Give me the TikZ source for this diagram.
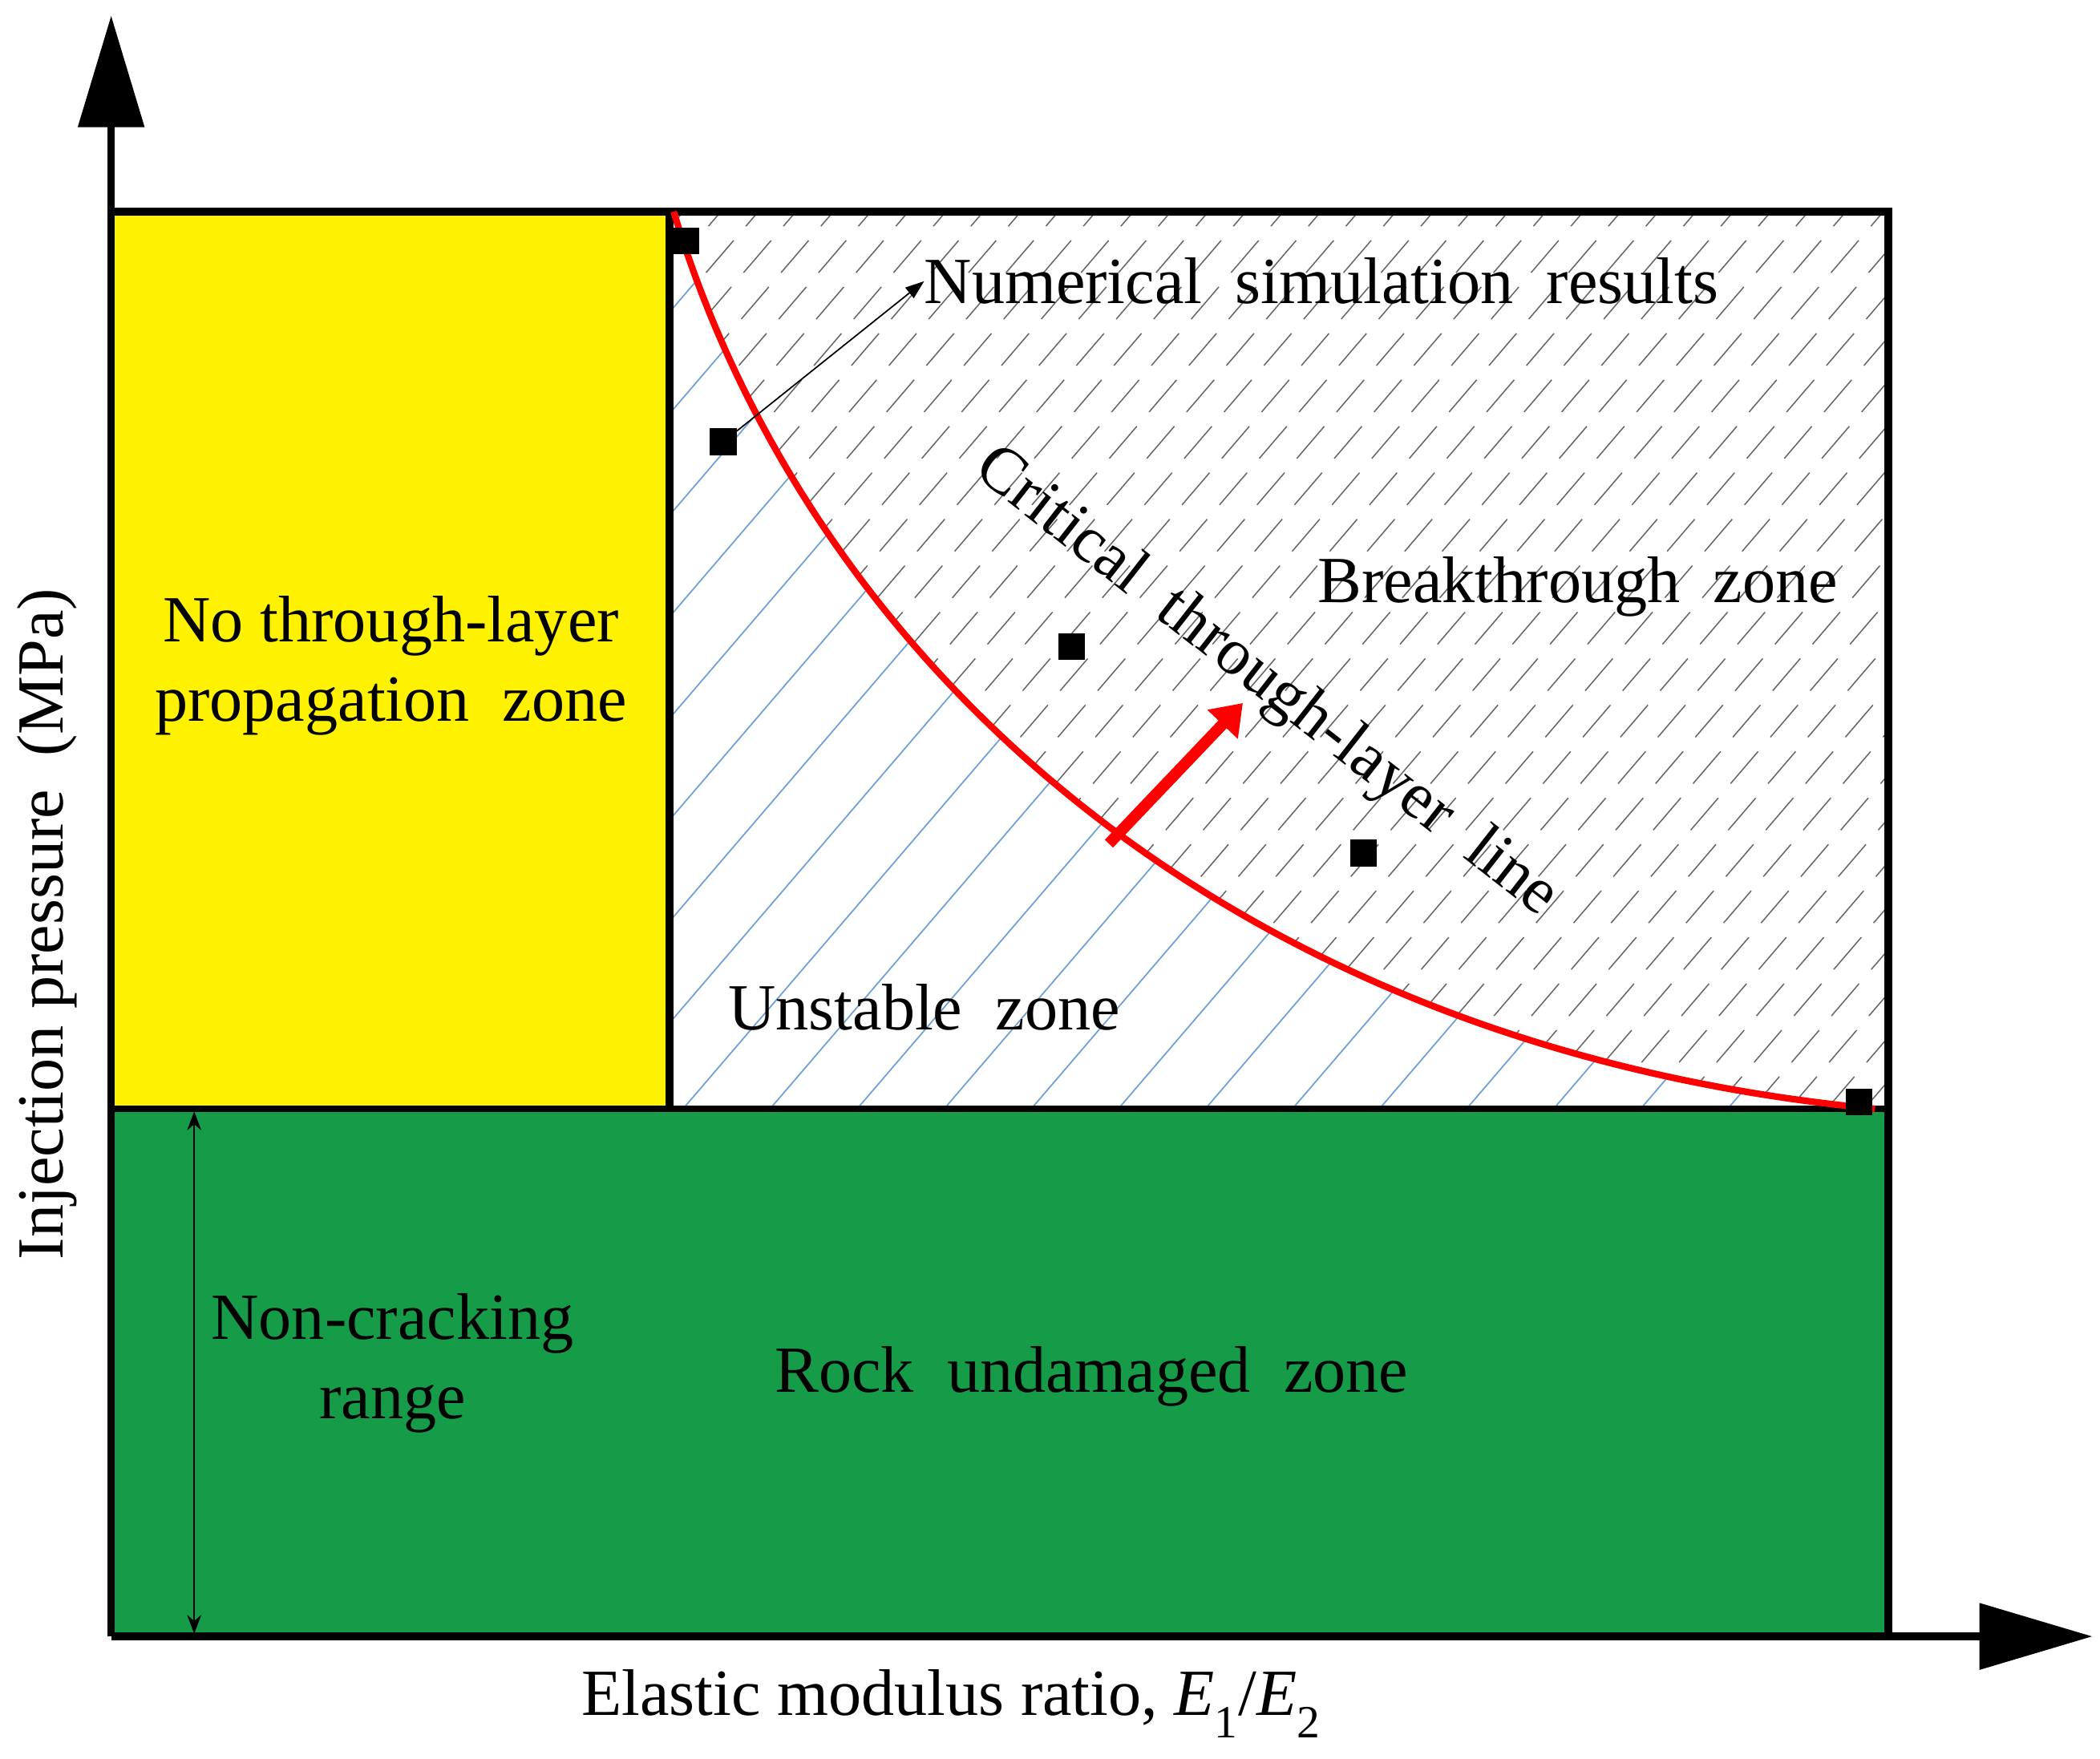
\documentclass[tikz,border=0pt]{standalone}
\usepackage{fontspec}
\setmainfont{Liberation Serif}
\usetikzlibrary{arrows.meta}
\begin{document}
\begin{tikzpicture}[x=0.05cm,y=-0.05cm,
  lbl/.style={font=\fontsize{70}{80}\selectfont,align=center,inner sep=0},
  mk/.style={fill=black,minimum size=1cm,inner sep=0}]
\useasboundingbox (0,0) rectangle (1568,1313);
\definecolor{gr}{RGB}{22,155,72}
\definecolor{hb}{RGB}{110,160,215}
% fills
\fill[yellow] (83,158) rectangle (500,828);
\fill[gr] (83,828) rectangle (1410,1222);
% hatching
\begin{scope}
\clip (500,158) -- (503,158) .. controls (600,480) and (900,780) .. (1400,828) -- (500,828) -- cycle;
\foreach \a in {-400,-335,...,1500} \draw[hb,line width=1.5pt] (\a,828) -- (\a+600,128);
\end{scope}
\begin{scope}
\clip (503,158) .. controls (600,480) and (900,780) .. (1400,828) -- (1410,828) -- (1410,158) -- cycle;
\foreach \a in {-400,-372,...,1500} \draw[gray!80!black,line width=1.3pt,dash pattern=on 45pt off 20pt] (\a,828) -- (\a+600,128);
\end{scope}
% box lines
\draw[line width=8pt] (83,158) -- (1410,158) -- (1410,1222);
\draw[line width=8pt] (500,158) -- (500,828);
\draw[line width=6pt] (83,828) -- (1410,828);
% axes
\draw[line width=8pt] (83,1222) -- (83,90);
\fill (58,95) -- (108,95) -- (83,12) -- cycle;
\draw[line width=8pt] (83,1222) -- (1485,1222);
\fill (1478,1197) -- (1478,1247) -- (1562,1222) -- cycle;
% curve
\draw[red,line width=7pt] (503,158) .. controls (600,480) and (900,780) .. (1400,828);
% markers
\node[mk] (m1) at (512,180) {};
\node[mk] (m2) at (540,330) {};
\node[mk] (m3) at (800,483) {};
\node[mk] (m4) at (1018,637) {};
\node[mk] (m5) at (1388,823) {};
% red arrow
\coordinate (ra) at (828,630);
\coordinate (rb) at (928,525);
\draw[red,line width=12pt,-{Triangle[length=1.1cm,width=1.5cm]}] (ra) -- (rb);
% numerical label arrow
\node[lbl,anchor=west] (num) at (690,210) {Numerical\ \ simulation\ \ results};
\draw[line width=1.5pt,-{Triangle[length=0.7cm,width=0.5cm]}] (m2) -- (num.west);
% double arrow
\coordinate (da) at (145,830);
\coordinate (db) at (145,1220);
\draw[line width=2pt,{Stealth[length=0.7cm]}-{Stealth[length=0.7cm]}] (da) -- (db);
% texts
\node[lbl] (t1) at (292,497) {No through-layer\\[4pt]propagation\ \ zone};
\node[lbl] (t2) at (1178,438) {Breakthrough\ \ zone};
\node[lbl] (t3) at (690,752) {Unstable\ \ zone};
\node[lbl,rotate=-38] (t4) at (945,510) {Critical\ \ through-layer\ \ line};
\node[lbl] (t5) at (293,1018) {Non-cracking\\[4pt]range};
\node[lbl] (t6) at (815,1028) {Rock\ \ undamaged\ \ zone};
\node[lbl] (t7) at (710,1272) {Elastic modulus ratio, \textit{E}\textsubscript{1}/\textit{E}\textsubscript{2}};
\node[lbl,rotate=90] (t8) at (35,690) {Injection pressure\ \ (MPa)};
\end{tikzpicture}
\end{document}
